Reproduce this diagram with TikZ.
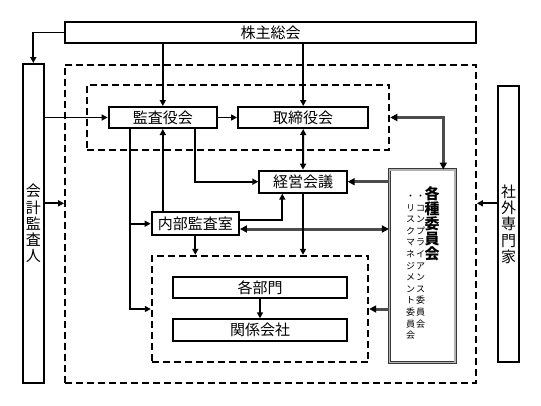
\documentclass[tikz,border=0pt]{standalone}
\usepackage{fontspec}
\setmainfont{Noto Sans CJK JP}
\usetikzlibrary{arrows.meta}
\tikzset{
  tri/.tip={Triangle[length=6pt,width=6pt]},
  gtri/.tip={Triangle[length=7pt,width=7pt,color=black]},
  box/.style={draw,line width=2pt,minimum height=21pt,inner sep=0pt,font=\fontsize{15}{16.25}\selectfont},
  dbox/.style={draw,line width=1.8pt,dash pattern=on 7pt off 4pt,inner sep=0pt},
  arr/.style={line width=1.9pt,-tri},
  garr/.style={draw=gray!60!black,line width=3pt,-gtri},
}
\begin{document}
\begin{tikzpicture}[x=1pt,y=-1pt]
\useasboundingbox (0,0) rectangle (541,405);
\node[dbox,minimum width=411pt,minimum height=318.3pt] (outer) at (270.5,223.9) {};
\node[dbox,minimum width=302.3pt,minimum height=65pt] (upper) at (238.2,117.5) {};
\node[dbox,minimum width=216.6pt,minimum height=106.6pt] (lower) at (260,309) {};
\node[box,minimum width=411pt] (kabu) at (270.5,32.5) {株主総会};
\node[box,minimum width=21.3pt,minimum height=319pt,align=center] (kaikei) at (33.3,223.5) {会\\計\\監\\査\\人};
\node[box,minimum width=21.6pt,minimum height=276.3pt,align=center] (shagai) at (508.5,224.2) {社\\外\\専\\門\\家};
\node[box,minimum width=108.3pt] (kansa) at (162.8,117.5) {監査役会};
\node[box,minimum width=130.3pt] (tori) at (303.2,117.5) {取締役会};
\node[box,minimum width=87.4pt,minimum height=22pt] (keiei) at (303,181.7) {経営会議};
\node[box,minimum width=87.3pt,minimum height=22.7pt] (naibu) at (195.3,223.7) {内部監査室};
\node[box,minimum width=173.4pt] (bumon) at (260,287.8) {各部門};
\node[box,minimum width=173.4pt,minimum height=21.4pt] (kankei) at (260,330) {関係会社};
\node[draw=gray!45!black,double=gray!60,double distance=1.2pt,line width=0.9pt,minimum width=65.7pt,minimum height=192.7pt] (iinkai) at (422.2,266.3) {};
\node[anchor=north,inner sep=0pt,align=center,font=\fontsize{15}{15}\selectfont\bfseries] (iinkaiT) at (432,186) {各\\種\\委\\員\\会};
\node[anchor=north,inner sep=0pt,align=center,font=\fontsize{9}{11.6}\selectfont] (comp) at (420.5,195) {・\\コ\\ン\\プ\\ラ\\イ\\ア\\ン\\ス\\委\\員\\会};
\node[anchor=north,inner sep=0pt,align=center,font=\fontsize{9}{11.6}\selectfont] (risk) at (410.5,195) {・\\リ\\ス\\ク\\マ\\ネ\\ジ\\メ\\ン\\ト\\委\\員\\会};
\draw[arr] (kabu.west) -| (kaikei.north);
\draw[arr] (kabu.south -| kansa.north) -- (kansa.north);
\draw[arr] (kabu.south -| tori.north) -- (tori.north);
\draw[arr] (kaikei.east |- kansa.west) -- (kansa.west);
\draw[arr] (kansa.east) -- (tori.west);
\draw[arr,tri-tri] (tori.south) -- (keiei.north);
\draw[arr] ([xshift=32.2pt]kansa.south) |- (keiei.west);
\draw[arr] ([xshift=-32.8pt]kansa.south) |- (lower.west);
\draw[arr] ([xshift=-32.8pt]kansa.south) |- (naibu.west);
\draw[arr] (naibu.north -| kansa.south) -- (kansa.south);
\draw[arr] ([yshift=3.7pt]naibu.east) -| ([xshift=-20.7pt]keiei.south);
\draw[garr,gtri-gtri] ([yshift=-5.3pt]naibu.east) -- ([yshift=-5.3pt]naibu.east -| iinkai.west);
\draw[arr] (naibu.south) -- (naibu.south |- lower.north);
\draw[arr] (keiei.south) -- (keiei.south |- lower.north);
\draw[garr] (keiei.east -| iinkai.west) -- (keiei.east);
\draw[garr,gtri-gtri] (upper.east |- tori.east) -| ([xshift=21.1pt]iinkai.north);
\draw[garr] (lower.east -| iinkai.west) -- (lower.east);
\draw[arr] (bumon.south) -- (kankei.north);
\draw[arr] ([yshift=20.9pt]shagai.west) -- ([yshift=20.9pt]shagai.west -| outer.east);
\draw[arr] ([yshift=20.2pt]kaikei.east) -- ([yshift=20.2pt]kaikei.east -| outer.west);
\end{tikzpicture}
\end{document}
